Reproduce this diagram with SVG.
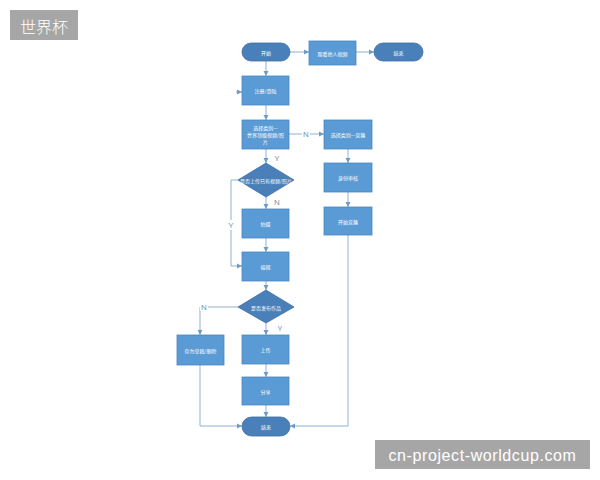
<svg xmlns="http://www.w3.org/2000/svg" width="600" height="480" viewBox="0 0 600 480">
<defs>
<marker id="ah" markerWidth="6" markerHeight="6" refX="5" refY="3" orient="auto" markerUnits="userSpaceOnUse">
<path d="M0,0.5 L5,3 L0,5.5 Z" fill="#6f9bc7"/>
</marker>
</defs>
<style>
.r{fill:#5b9bd5;stroke:#4a86c0;stroke-width:0.8}
.p{fill:#4a80b9;stroke:#3d6fa3;stroke-width:0.8}
.d{fill:#4a80b9;stroke:#3d6fa3;stroke-width:0.8}
.t{font-family:"Noto Sans CJK SC","Noto Sans",sans-serif;font-size:5px;fill:#ffffff;text-anchor:middle;dominant-baseline:central}
.c{fill:none;stroke:#8fb1d3;stroke-width:1;marker-end:url(#ah)}
.l{font-family:"Liberation Sans",sans-serif;font-size:8px;fill:#7b92ad;text-anchor:middle;dominant-baseline:central}
</style>
<rect width="600" height="480" fill="#ffffff"/>
<g id="title"><rect x="10" y="10" width="68" height="30" fill="#a6a6a6"/><text x="44" y="25.5" font-family="Noto Sans CJK SC,sans-serif" font-size="16" font-weight="300" fill="#ffffff" text-anchor="middle" dominant-baseline="central">世界杯</text></g>
<g id="watermark"><rect x="375" y="440" width="215" height="29" fill="#a6a6a6"/><text x="482.5" y="455" font-family="Liberation Sans,sans-serif" font-size="16" letter-spacing="0.6" fill="#ffffff" text-anchor="middle" dominant-baseline="central">cn-project-worldcup.com</text></g>
<g id="connectors">
<path class="c" d="M290,52 L309,52"/>
<path class="c" d="M356,52 L374,52"/>
<path class="c" d="M266,61 L266,76"/>
<path class="c" d="M236,92 L242,92"/>
<path class="c" d="M266,105 L266,120"/>
<path class="c" d="M289,134 L324,134"/>
<path class="c" d="M266,149 L266,163"/>
<path class="c" d="M348,149 L348,163"/>
<path class="c" d="M348,192 L348,207"/>
<path class="c" d="M348,235 L348,426 L290,426"/>
<path class="c" d="M266,197 L266,209"/>
<path class="c" d="M238,180 L231,180 L231,266 L242,266"/>
<path class="c" d="M266,238 L266,252"/>
<path class="c" d="M266,281 L266,290"/>
<path class="c" d="M238,307 L200,307 L200,335"/>
<path class="c" d="M266,323 L266,335"/>
<path class="c" d="M266,364 L266,377"/>
<path class="c" d="M266,405 L266,417"/>
<path class="c" d="M200,365 L200,426 L242,426"/>
<rect x="302" y="130" width="8" height="8" fill="#ffffff"/><text class="l" x="306" y="134">N</text>
<text class="l" x="277" y="158">Y</text>
<text class="l" x="277" y="202">N</text>
<rect x="227" y="220" width="8" height="10" fill="#ffffff"/><text class="l" x="231" y="225">Y</text>
<rect x="200" y="303" width="8" height="8" fill="#ffffff"/><text class="l" x="204" y="307">N</text>
<text class="l" x="280" y="328">Y</text>
</g>
<g id="start"><rect class="p" x="242" y="43" width="48" height="18" rx="9"/><text class="t" x="266" y="52">开始</text></g>
<g id="watch"><rect class="r" x="309" y="41" width="47" height="24"/><text class="t" x="332.5" y="53">观看他人视频</text></g>
<g id="end-top"><rect class="p" x="374" y="43" width="49" height="18" rx="9"/><text class="t" x="398.5" y="52">结束</text></g>
<g id="login"><rect class="r" x="242" y="76" width="47" height="29"/><text class="t" x="265.5" y="90.5">注册/登陆</text></g>
<g id="choose-top"><rect class="r" x="242" y="120" width="47" height="29"/><text class="t" x="265.5" y="127">选择类别—</text><text class="t" x="265.5" y="134">世界顶级视频/照</text><text class="t" x="265.5" y="141">片</text></g>
<g id="choose-quiz"><rect class="r" x="324" y="120" width="48" height="29"/><text class="t" x="348" y="134.5">选择类别—竞猜</text></g>
<g id="verify"><rect class="r" x="324" y="163" width="48" height="29"/><text class="t" x="348" y="177.5">身份审核</text></g>
<g id="start-quiz"><rect class="r" x="324" y="207" width="48" height="28"/><text class="t" x="348" y="221">开始竞猜</text></g>
<g id="upload-existing"><path class="d" d="M266,163 L294,180 L266,197 L238,180 Z"/><text class="t" x="266" y="180" font-size="3.7">是否上传已有视频/照片</text></g>
<g id="shoot"><rect class="r" x="242" y="209" width="47" height="29"/><text class="t" x="265.5" y="223.5">拍摄</text></g>
<g id="edit"><rect class="r" x="242" y="252" width="47" height="29"/><text class="t" x="265.5" y="266.5">编辑</text></g>
<g id="publish"><path class="d" d="M266,290 L294,307 L266,323 L238,307 Z"/><text class="t" x="266" y="307">是否发布作品</text></g>
<g id="draft"><rect class="r" x="177" y="335" width="47" height="30"/><text class="t" x="200.5" y="350">存为草稿/删除</text></g>
<g id="upload"><rect class="r" x="242" y="335" width="47" height="29"/><text class="t" x="265.5" y="349.5">上传</text></g>
<g id="share"><rect class="r" x="242" y="377" width="47" height="28"/><text class="t" x="265.5" y="391">分享</text></g>
<g id="end-bottom"><rect class="p" x="242" y="417" width="48" height="19" rx="9.5"/><text class="t" x="266" y="426.5">结束</text></g>
</svg>
